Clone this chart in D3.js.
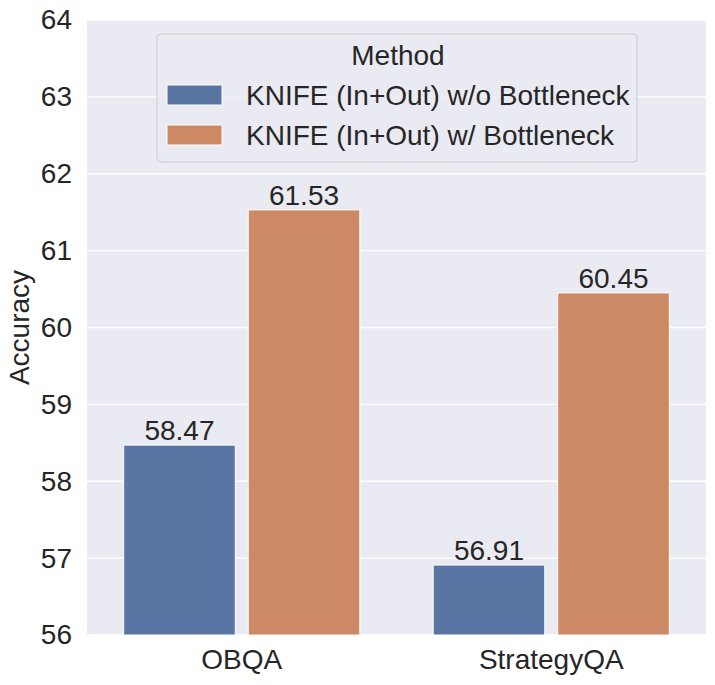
<!DOCTYPE html>
<html>
<head>
<meta charset="utf-8">
<script src="https://cdn.jsdelivr.net/npm/d3@7"></script>
<style>
  body { margin: 0; background: #fff; }
  text { font-family: "Liberation Sans", Arial, sans-serif; fill: #262626; }
</style>
</head>
<body>
<div id="chart"></div>
<script>
const datasets = ["OBQA", "StrategyQA"];
const methods = ["KNIFE (In+Out) w/o Bottleneck", "KNIFE (In+Out) w/ Bottleneck"];
const colors = ["#5975a4", "#cc8963"];
const accuracy = [
  [58.47, 61.53],
  [56.91, 60.45]
];
const yTicks = [56, 57, 58, 59, 60, 61, 62, 63, 64];

const width = 715, height = 685;
const margin = { top: 20, right: 9, bottom: 50, left: 87 };
const fs = 28;
const groupFrac = 0.763;

const svg = d3.select("#chart").append("svg")
  .attr("width", width)
  .attr("height", height);

const x = d3.scaleBand()
  .domain(datasets)
  .range([margin.left, width - margin.right]);

const xInner = d3.scaleBand()
  .domain(methods)
  .range([0, x.bandwidth() * groupFrac])
  .paddingInner(0.104);

const y = d3.scaleLinear()
  .domain([56, 64])
  .range([height - margin.bottom, margin.top]);

// background panel
svg.append("rect")
  .attr("x", margin.left)
  .attr("y", margin.top)
  .attr("width", width - margin.left - margin.right)
  .attr("height", height - margin.top - margin.bottom)
  .attr("fill", "#eaeaf2");

// gridlines
svg.append("g")
  .selectAll("line")
  .data(yTicks)
  .join("line")
  .attr("x1", margin.left)
  .attr("x2", width - margin.right)
  .attr("y1", d => y(d))
  .attr("y2", d => y(d))
  .attr("stroke", "#fff")
  .attr("stroke-width", 1.3);

// y axis
const yAxis = svg.append("g")
  .attr("transform", `translate(${margin.left},0)`)
  .call(d3.axisLeft(y).tickValues(yTicks).tickSize(0).tickPadding(15));
yAxis.select(".domain").remove();
yAxis.selectAll("text").attr("font-size", fs).style("fill", "#262626");

// x axis
const xAxis = svg.append("g")
  .attr("transform", `translate(0,${height - margin.bottom})`)
  .call(d3.axisBottom(x).tickSize(0).tickPadding(14));
xAxis.select(".domain").remove();
xAxis.selectAll("text").attr("font-size", fs).style("fill", "#262626");

svg.append("text")
  .attr("transform", `translate(29,${(margin.top + height - margin.bottom) / 2}) rotate(-90)`)
  .attr("text-anchor", "middle")
  .attr("font-size", fs)
  .text("Accuracy");

// bars
const groups = svg.append("g")
  .selectAll("g")
  .data(datasets)
  .join("g")
  .attr("transform", d => `translate(${x(d) + x.bandwidth() * (1 - groupFrac) / 2},0)`);

groups.each(function (ds, i) {
  const g = d3.select(this);
  methods.forEach((m, j) => {
    const v = accuracy[i][j];
    g.append("rect")
      .attr("x", xInner(m))
      .attr("y", y(v))
      .attr("width", xInner.bandwidth())
      .attr("height", y(56) - y(v))
      .attr("fill", colors[j])
      .attr("stroke", "#fff")
      .attr("stroke-width", 1);
    g.append("text")
      .attr("x", xInner(m) + xInner.bandwidth() / 2)
      .attr("y", y(v) - 5)
      .attr("text-anchor", "middle")
      .attr("font-size", fs)
      .text(v.toFixed(2));
  });
});

// legend
const legend = svg.append("g").attr("transform", "translate(157,34)");
legend.append("rect")
  .attr("width", 480)
  .attr("height", 128)
  .attr("rx", 4)
  .attr("fill", "#eaeaf2")
  .attr("fill-opacity", 0.8)
  .attr("stroke", "#cccccc")
  .attr("stroke-width", 1);
legend.append("text")
  .attr("x", 241)
  .attr("y", 31)
  .attr("text-anchor", "middle")
  .attr("font-size", fs)
  .text("Method");
methods.forEach((m, j) => {
  legend.append("rect")
    .attr("x", 10)
    .attr("y", 51 + j * 40)
    .attr("width", 55)
    .attr("height", 20)
    .attr("fill", colors[j])
    .attr("stroke", "#fff");
  legend.append("text")
    .attr("x", 89)
    .attr("y", 71 + j * 40)
    .attr("font-size", fs)
    .text(m);
});
</script>
</body>
</html>
